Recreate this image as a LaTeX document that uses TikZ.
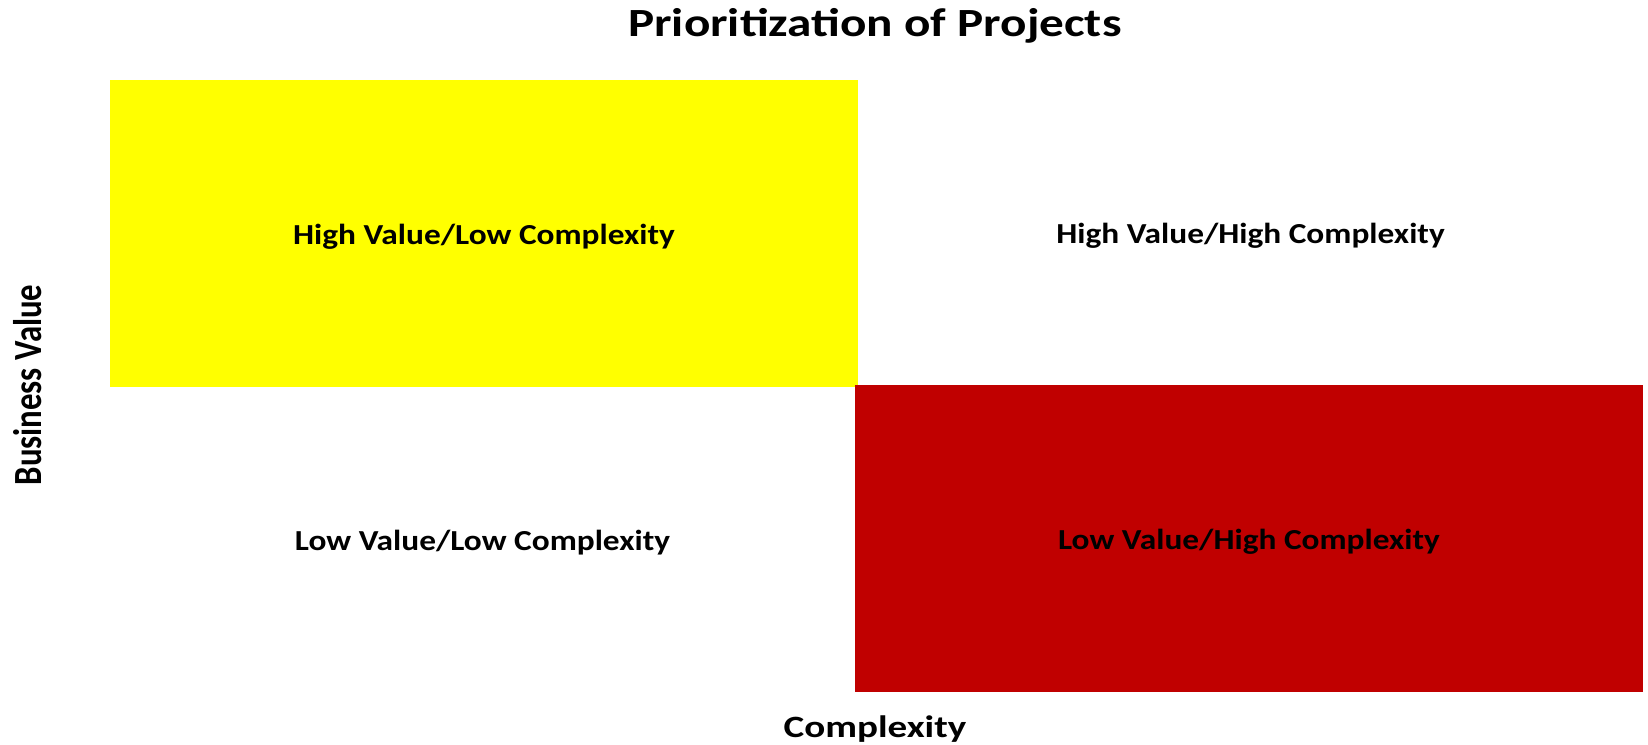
\documentclass[tikz,border=0pt]{standalone}
\usepackage{fontspec}
\usepackage{graphicx}
\setmainfont{Carlito}
\definecolor{darkred}{HTML}{C00000}
\definecolor{brightyellow}{HTML}{FFFF00}
\newcommand{\widetext}[2]{\raisebox{-3pt}[\height][\depth]{\scalebox{#1}[1]{#2}}}
\begin{document}
\begin{tikzpicture}[x=1pt,y=-1pt,
    quad/.style={rectangle, inner sep=0pt, outer sep=0pt, anchor=north west, font=\bfseries\fontsize{29}{32}\selectfont},
    axis/.style={font=\bfseries\fontsize{31}{34}\selectfont}]
    \useasboundingbox (0,0) rectangle (1648,744);
    \node (hvlc) [quad, fill=brightyellow, minimum width=748pt, minimum height=307pt] at (110,80) {\widetext{1.15}{High Value/Low Complexity}};
    \node (hvhc) [quad, minimum width=785pt, minimum height=305pt] at (858,80) {\widetext{1.15}{High Value/High Complexity}\hspace{12pt}};
    \node (lvlc) [quad, minimum width=745pt, minimum height=305pt] at (110,387) {\widetext{1.15}{Low Value/Low Complexity}};
    \node (lvhc) [quad, fill=darkred, minimum width=788pt, minimum height=307pt] at (855,385) {\widetext{1.15}{Low Value/High Complexity}};

    \node (title) [font=\bfseries\fontsize{40}{44}\selectfont] at (875,23) {\widetext{1.23}{Prioritization of Projects}};
    \node (xlabel) [axis] at (875,726) {\widetext{1.26}{Complexity}};
    \node (ylabel) [font=\bfseries\fontsize{40}{44}\selectfont, rotate=90] at (28,385) {\scalebox{0.82}[1]{Business Value}};
\end{tikzpicture}
\end{document}
